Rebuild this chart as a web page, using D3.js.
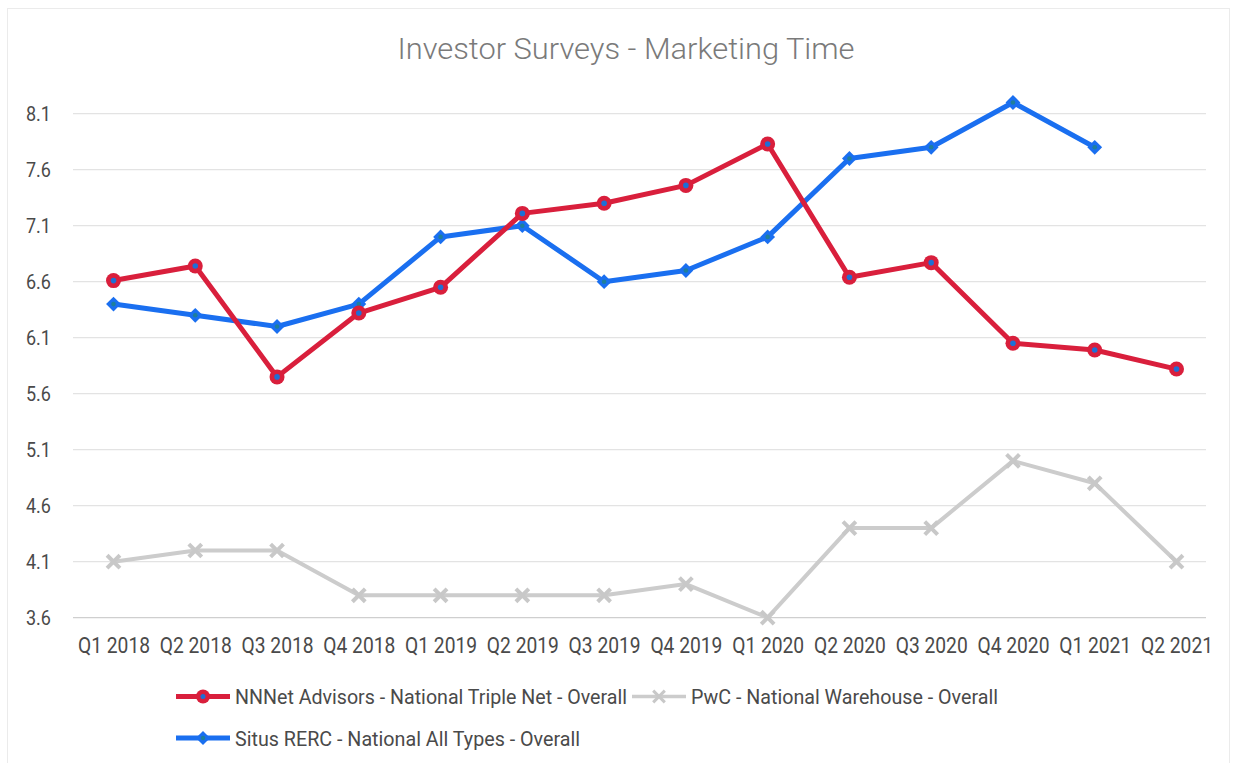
<!DOCTYPE html>
<html>
<head>
<meta charset="utf-8">
<script src="https://cdn.jsdelivr.net/npm/d3@7"></script>
<style>
  html, body { margin: 0; padding: 0; background: #ffffff; }
  svg { display: block; font-family: Roboto, "Open Sans", sans-serif; }
</style>
</head>
<body>
<svg id="chart" width="1233" height="763"></svg>
<script>
// Quarterly survey periods
const quarters = ["Q1 2018", "Q2 2018", "Q3 2018", "Q4 2018", "Q1 2019", "Q2 2019", "Q3 2019",
                  "Q4 2019", "Q1 2020", "Q2 2020", "Q3 2020", "Q4 2020", "Q1 2021", "Q2 2021"];

// Marketing time (months) per survey
const nnnetValues = [6.61, 6.74, 5.75, 6.32, 6.55, 7.21, 7.30, 7.46, 7.83, 6.64, 6.77, 6.05, 5.99, 5.82];
const pwcValues   = [4.1, 4.2, 4.2, 3.8, 3.8, 3.8, 3.8, 3.9, 3.6, 4.4, 4.4, 5.0, 4.8, 4.1];
const situsValues = [6.4, 6.3, 6.2, 6.4, 7.0, 7.1, 6.6, 6.7, 7.0, 7.7, 7.8, 8.2, 7.8, null];

const yTicks = [3.6, 4.1, 4.6, 5.1, 5.6, 6.1, 6.6, 7.1, 7.6, 8.1];

const seriesNames = [
  "NNNet Advisors - National Triple Net - Overall",
  "PwC - National Warehouse - Overall",
  "Situs RERC - National All Types - Overall"
];

const RED = "#d91f3c", BLUE = "#1a6ff0", GRAY = "#cccccc";

const svg = d3.select("#chart");

// frame
svg.append("rect")
  .attr("x", 7.5).attr("y", 8.5).attr("width", 1222).attr("height", 760)
  .attr("fill", "#fff").attr("stroke", "#ebebeb");

const x = d3.scalePoint().domain(quarters).range([113.5, 1176.5]);
const y = d3.scaleLinear().domain([3.6, 8.1]).range([617.7, 113.7]);

// title
svg.append("text")
  .attr("x", 626).attr("y", 59)
  .attr("text-anchor", "middle")
  .attr("font-size", 29).attr("font-weight", 300)
  .attr("fill", "#7a7a7a")
  .attr("textLength", 457).attr("lengthAdjust", "spacingAndGlyphs")
  .text("Investor Surveys - Marketing Time");

// horizontal gridlines
svg.append("g").selectAll("line").data(yTicks).join("line")
  .attr("x1", 73).attr("x2", 1206)
  .attr("y1", d => y(d)).attr("y2", d => y(d))
  .attr("stroke", d => d === 3.6 ? "#cfcfcf" : "#e3e3e3")
  .attr("stroke-width", 1.2);

// y axis labels
const yAxis = d3.axisLeft(y).tickValues(yTicks).tickFormat(d3.format(".1f")).tickSize(0).tickPadding(0);
const yG = svg.append("g").attr("transform", "translate(51,0)").call(yAxis);
yG.select(".domain").remove();
yG.selectAll("text")
  .attr("font-size", 20).attr("fill", "#4a4a4a")
  .attr("font-family", "Roboto, sans-serif")
  .attr("dy", "0.36em")
  .attr("textLength", 25).attr("lengthAdjust", "spacingAndGlyphs");

// x axis labels
const xAxis = d3.axisBottom(x).tickSize(0).tickPadding(0);
const xG = svg.append("g").attr("transform", "translate(0,637)").call(xAxis);
xG.select(".domain").remove();
xG.selectAll("text")
  .attr("font-size", 22).attr("fill", "#4a4a4a")
  .attr("font-family", "Roboto, sans-serif")
  .attr("dy", "0.72em")
  .attr("textLength", 72).attr("lengthAdjust", "spacingAndGlyphs");

const line = d3.line()
  .defined(d => d.v !== null)
  .x(d => x(d.q)).y(d => y(d.v));

function pts(values) { return quarters.map((q, i) => ({ q, v: values[i] })); }

const plot = svg.append("g");

// PwC series (light gray, cross markers)
const pwc = pts(pwcValues);
plot.append("path").datum(pwc).attr("d", line)
  .attr("fill", "none").attr("stroke", GRAY).attr("stroke-width", 4)
  .attr("stroke-linejoin", "round");
plot.append("g").selectAll("path").data(pwc).join("path")
  .attr("transform", d => `translate(${x(d.q)},${y(d.v)})`)
  .attr("d", d3.symbol(d3.symbolTimes, 110))
  .attr("fill", "none").attr("stroke", "#c8c8c8").attr("stroke-width", 4);

// Situs series (blue, diamond markers)
const situs = pts(situsValues);
plot.append("path").datum(situs).attr("d", line)
  .attr("fill", "none").attr("stroke", BLUE).attr("stroke-width", 5)
  .attr("stroke-linejoin", "round");
const sitG = plot.append("g").selectAll("g").data(situs.filter(d => d.v !== null)).join("g")
  .attr("transform", d => `translate(${x(d.q)},${y(d.v)})`);
sitG.append("path").attr("transform", "rotate(45)")
  .attr("d", d3.symbol(d3.symbolSquare, 110)).attr("fill", BLUE);
sitG.append("circle").attr("r", 2.3).attr("fill", "#1e7f9c");

// NNNet series (red, circle markers)
const nnn = pts(nnnetValues);
plot.append("path").datum(nnn).attr("d", line)
  .attr("fill", "none").attr("stroke", RED).attr("stroke-width", 5)
  .attr("stroke-linejoin", "round");
const nnG = plot.append("g").selectAll("g").data(nnn).join("g")
  .attr("transform", d => `translate(${x(d.q)},${y(d.v)})`);
nnG.append("circle").attr("r", 7.5).attr("fill", RED);
nnG.append("circle").attr("r", 2.8).attr("fill", "#1d6fd6");

// legend
const legend = svg.append("g");
const legendItems = [
  { name: seriesNames[0], color: RED, kind: "circle", lx: 176, ly: 696.5, tw: 392 },
  { name: seriesNames[1], color: GRAY, kind: "times", lx: 632, ly: 696.5, tw: 307 },
  { name: seriesNames[2], color: BLUE, kind: "diamond", lx: 176, ly: 738, tw: 345 }
];
legendItems.forEach(it => {
  const g = legend.append("g").attr("transform", `translate(${it.lx},${it.ly})`);
  g.append("line").attr("x1", 0).attr("x2", 54).attr("y1", 0).attr("y2", 0)
    .attr("stroke", it.color).attr("stroke-width", it.kind === "times" ? 3.5 : 5);
  if (it.kind === "circle") {
    g.append("circle").attr("cx", 27).attr("r", 7).attr("fill", it.color);
    g.append("circle").attr("cx", 27).attr("r", 2.5).attr("fill", "#1d6fd6");
  } else if (it.kind === "diamond") {
    g.append("path").attr("transform", "translate(27,0) rotate(45)")
      .attr("d", d3.symbol(d3.symbolSquare, 100)).attr("fill", it.color);
    g.append("circle").attr("cx", 27).attr("r", 2.2).attr("fill", "#1e7f9c");
  } else {
    g.append("path").attr("transform", "translate(27,0)")
      .attr("d", d3.symbol(d3.symbolTimes, 90))
      .attr("fill", "none").attr("stroke", "#c8c8c8").attr("stroke-width", 3);
  }
  g.append("text")
    .attr("x", 59).attr("y", 0).attr("dy", "0.36em")
    .attr("font-size", 21).attr("fill", "#4a4a4a")
    .attr("textLength", it.tw).attr("lengthAdjust", "spacingAndGlyphs")
    .text(it.name);
});
</script>
</body>
</html>
